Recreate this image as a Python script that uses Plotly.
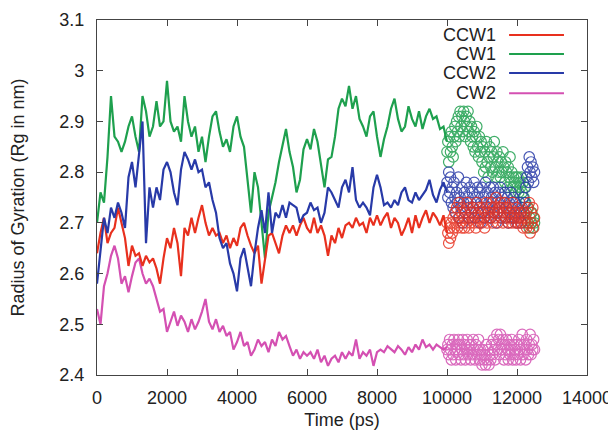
import plotly.graph_objects as go

# ---------------- data ----------------
# line part: samples every 100 ps from 0 to 10000 ps
time_line = list(range(0, 10001, 100))
# circle part: samples every 25 ps from 10000 to 12500 ps
time_pts = list(range(10000, 12501, 25))

ccw1_line = [2.64, 2.68, 2.71, 2.66, 2.68, 2.69, 2.73, 2.70, 2.67, 2.615,
             2.655, 2.635, 2.64, 2.615, 2.635, 2.622, 2.63, 2.61, 2.58, 2.63,
             2.67, 2.65, 2.69, 2.66, 2.595, 2.69, 2.675, 2.71, 2.68, 2.71,
             2.735, 2.70, 2.675, 2.69, 2.675, 2.68, 2.66, 2.675, 2.65, 2.67,
             2.655, 2.69, 2.70, 2.675, 2.655, 2.64, 2.655, 2.58, 2.63, 2.675,
             2.68, 2.66, 2.64, 2.675, 2.695, 2.68, 2.695, 2.675, 2.695, 2.71,
             2.69, 2.68, 2.71, 2.68, 2.695, 2.675, 2.635, 2.675, 2.66, 2.69,
             2.67, 2.695, 2.70, 2.69, 2.71, 2.695, 2.70, 2.68, 2.71, 2.695,
             2.715, 2.695, 2.71, 2.72, 2.69, 2.71, 2.70, 2.675, 2.69, 2.71,
             2.68, 2.715, 2.69, 2.71, 2.725, 2.70, 2.72, 2.71, 2.695, 2.715,
             2.68]

cw1_line = [2.70, 2.76, 2.74, 2.83, 2.95, 2.87, 2.86, 2.84, 2.86, 2.89,
            2.91, 2.87, 2.84, 2.95, 2.92, 2.87, 2.89, 2.94, 2.89, 2.90,
            2.98, 2.90, 2.88, 2.89, 2.86, 2.95, 2.90, 2.87, 2.89, 2.84,
            2.87, 2.82, 2.87, 2.91, 2.92, 2.88, 2.85, 2.865, 2.84, 2.89,
            2.91, 2.87, 2.85, 2.78, 2.72, 2.80, 2.77, 2.70, 2.63, 2.72,
            2.75, 2.78, 2.82, 2.85, 2.885, 2.84, 2.81, 2.76, 2.785, 2.845,
            2.865, 2.845, 2.885, 2.86, 2.81, 2.77, 2.825, 2.83, 2.87, 2.925,
            2.945, 2.93, 2.97, 2.925, 2.95, 2.905, 2.89, 2.87, 2.91, 2.92,
            2.87, 2.83, 2.865, 2.89, 2.925, 2.945, 2.905, 2.88, 2.89, 2.93,
            2.905, 2.89, 2.92, 2.885, 2.91, 2.925, 2.905, 2.91, 2.885, 2.89,
            2.86]

ccw2_line = [2.58, 2.65, 2.71, 2.68, 2.73, 2.71, 2.74, 2.72, 2.69, 2.79,
             2.82, 2.77, 2.83, 2.90, 2.66, 2.77, 2.73, 2.77, 2.745, 2.805,
             2.82, 2.80, 2.76, 2.735, 2.805, 2.84, 2.825, 2.805, 2.825, 2.80,
             2.805, 2.77, 2.78, 2.745, 2.72, 2.67, 2.65, 2.66, 2.62, 2.60,
             2.565, 2.63, 2.65, 2.61, 2.575, 2.64, 2.69, 2.725, 2.68, 2.76,
             2.68, 2.72, 2.71, 2.735, 2.71, 2.74, 2.735, 2.73, 2.70, 2.715,
             2.72, 2.74, 2.725, 2.73, 2.70, 2.72, 2.77, 2.76, 2.745, 2.73,
             2.77, 2.785, 2.76, 2.81, 2.745, 2.73, 2.74, 2.73, 2.715, 2.77,
             2.795, 2.77, 2.735, 2.74, 2.73, 2.745, 2.735, 2.76, 2.77, 2.745,
             2.74, 2.76, 2.745, 2.755, 2.765, 2.785, 2.755, 2.74, 2.765, 2.78,
             2.76]

cw2_line = [2.53, 2.50, 2.575, 2.60, 2.635, 2.655, 2.63, 2.58, 2.595, 2.563,
            2.595, 2.622, 2.63, 2.60, 2.58, 2.59, 2.575, 2.55, 2.525, 2.53,
            2.485, 2.505, 2.525, 2.497, 2.517, 2.505, 2.485, 2.51, 2.49, 2.505,
            2.525, 2.55, 2.505, 2.49, 2.51, 2.485, 2.497, 2.477, 2.485, 2.45,
            2.465, 2.485, 2.457, 2.465, 2.438, 2.45, 2.47, 2.457, 2.465, 2.445,
            2.47, 2.457, 2.485, 2.47, 2.477, 2.457, 2.438, 2.45, 2.432, 2.445,
            2.438, 2.445, 2.432, 2.45, 2.425, 2.438, 2.418, 2.432, 2.438, 2.425,
            2.445, 2.432, 2.445, 2.438, 2.47, 2.432, 2.445, 2.438, 2.45, 2.418,
            2.445, 2.45, 2.445, 2.457, 2.45, 2.445, 2.457, 2.45, 2.44, 2.455,
            2.445, 2.46, 2.45, 2.47, 2.455, 2.46, 2.45, 2.46, 2.455, 2.45,
            2.455]

ccw1_pts = [2.70, 2.68, 2.66, 2.69, 2.67, 2.70, 2.68, 2.71, 2.69, 2.72,
            2.70, 2.73, 2.69, 2.71, 2.74, 2.70, 2.72, 2.69, 2.73, 2.71,
            2.69, 2.72, 2.70, 2.74, 2.71, 2.69, 2.73, 2.70, 2.72, 2.71,
            2.73, 2.70, 2.72, 2.69, 2.74, 2.71, 2.70, 2.73, 2.71, 2.72,
            2.70, 2.73, 2.71, 2.69, 2.72, 2.74, 2.70, 2.72, 2.71, 2.73,
            2.71, 2.74, 2.70, 2.72, 2.73, 2.71, 2.75, 2.72, 2.70, 2.73,
            2.72, 2.74, 2.71, 2.73, 2.70, 2.72, 2.74, 2.71, 2.73, 2.72,
            2.70, 2.73, 2.71, 2.72, 2.70, 2.74, 2.71, 2.72, 2.70, 2.73,
            2.71, 2.70, 2.72, 2.71, 2.70, 2.72, 2.71, 2.69, 2.72, 2.70,
            2.71, 2.69, 2.73, 2.70, 2.74, 2.68, 2.72, 2.70, 2.73, 2.69,
            2.71]

cw1_pts = [2.84, 2.86, 2.82, 2.87, 2.84, 2.88, 2.85, 2.83, 2.87, 2.89,
           2.86, 2.90, 2.88, 2.91, 2.87, 2.92, 2.89, 2.91, 2.88, 2.92,
           2.90, 2.87, 2.91, 2.89, 2.92, 2.88, 2.90, 2.86, 2.89, 2.87,
           2.85, 2.88, 2.84, 2.87, 2.89, 2.85, 2.83, 2.87, 2.84, 2.86,
           2.82, 2.85, 2.80, 2.84, 2.81, 2.86, 2.82, 2.79, 2.83, 2.85,
           2.81, 2.84, 2.80, 2.83, 2.86, 2.81, 2.79, 2.84, 2.82, 2.80,
           2.83, 2.79, 2.82, 2.80, 2.84, 2.81, 2.78, 2.82, 2.80, 2.77,
           2.81, 2.79, 2.83, 2.78, 2.80, 2.77, 2.79, 2.78, 2.76, 2.79,
           2.77, 2.79, 2.76, 2.78, 2.77, 2.79, 2.76, 2.78, 2.75, 2.77,
           2.74, 2.72, 2.70, 2.73, 2.69, 2.71, 2.70, 2.72, 2.69, 2.71,
           2.70]

ccw2_pts = [2.78, 2.75, 2.80, 2.76, 2.79, 2.74, 2.77, 2.73, 2.78, 2.75,
            2.72, 2.76, 2.74, 2.79, 2.71, 2.75, 2.73, 2.77, 2.70, 2.74,
            2.76, 2.72, 2.78, 2.73, 2.75, 2.71, 2.77, 2.74, 2.72, 2.76,
            2.73, 2.78, 2.71, 2.75, 2.74, 2.77, 2.72, 2.76, 2.70, 2.74,
            2.77, 2.72, 2.75, 2.71, 2.78, 2.73, 2.76, 2.72, 2.74, 2.77,
            2.71, 2.75, 2.73, 2.77, 2.72, 2.76, 2.70, 2.74, 2.72, 2.76,
            2.73, 2.77, 2.71, 2.75, 2.72, 2.74, 2.76, 2.71, 2.73, 2.75,
            2.70, 2.74, 2.72, 2.76, 2.71, 2.73, 2.75, 2.71, 2.74, 2.72,
            2.70, 2.73, 2.71, 2.74, 2.72, 2.70, 2.73, 2.75, 2.72, 2.74,
            2.77, 2.79, 2.81, 2.78, 2.83, 2.80, 2.82, 2.79, 2.81, 2.78,
            2.80]

cw2_pts = [2.45, 2.46, 2.44, 2.47, 2.45, 2.43, 2.46, 2.44, 2.47, 2.45,
           2.43, 2.46, 2.45, 2.47, 2.44, 2.46, 2.43, 2.45, 2.47, 2.44,
           2.46, 2.43, 2.45, 2.47, 2.44, 2.46, 2.45, 2.43, 2.46, 2.44,
           2.47, 2.45, 2.43, 2.46, 2.44, 2.45, 2.47, 2.43, 2.45, 2.44,
           2.42, 2.45, 2.43, 2.44, 2.42, 2.46, 2.43, 2.45, 2.42, 2.44,
           2.43, 2.46, 2.44, 2.47, 2.45, 2.43, 2.46, 2.48, 2.45, 2.47,
           2.44, 2.48, 2.46, 2.45, 2.47, 2.43, 2.46, 2.44, 2.47, 2.45,
           2.43, 2.46, 2.44, 2.45, 2.47, 2.43, 2.46, 2.44, 2.45, 2.43,
           2.46, 2.44, 2.47, 2.45, 2.43, 2.46, 2.48, 2.44, 2.46, 2.45,
           2.43, 2.47, 2.45, 2.44, 2.46, 2.48, 2.44, 2.46, 2.45, 2.47,
           2.45]

series_names = ["CCW1", "CW1", "CCW2", "CW2"]
series_colors = ["rgb(232,48,30)", "rgb(30,160,78)", "rgb(40,58,168)", "rgb(212,80,178)"]

x_ticks = [0, 2000, 4000, 6000, 8000, 10000, 12000, 14000]
x_ticktext = ["0", "2000", "4000", "6000", "8000", "10000", "12000", "14000"]
y_ticks = [2.4, 2.5, 2.6, 2.7, 2.8, 2.9, 3.0, 3.1]
y_ticktext = ["2.4", "2.5", "2.6", "2.7", "2.8", "2.9", "3", "3.1"]

# ---------------- figure ----------------
FONT = "Liberation Sans, Arial, sans-serif"
line_data = dict(zip(series_names, [ccw1_line, cw1_line, ccw2_line, cw2_line]))
pts_data = dict(zip(series_names, [ccw1_pts, cw1_pts, ccw2_pts, cw2_pts]))
colors = dict(zip(series_names, series_colors))

fig = go.Figure()
for name in ["CW2", "CW1", "CCW1", "CCW2"]:
    fig.add_trace(go.Scatter(x=time_line, y=line_data[name], mode="lines", name=name,
                             line=dict(color=colors[name], width=2.2), showlegend=False))
for name in ["CW1", "CCW2", "CCW1", "CW2"]:
    col = colors[name]
    fig.add_trace(go.Scatter(x=time_pts, y=pts_data[name], mode="markers", name=name,
                             marker=dict(symbol="circle-open", size=10.5, color=col,
                                         line=dict(width=1.2, color=col)),
                             opacity=0.85, showlegend=False))

# gnuplot-style legend: text right aligned, line sample on the right
leg_y = [0.958, 0.904, 0.851, 0.794]
for name, col, ly in zip(series_names, series_colors, leg_y):
    fig.add_annotation(xref="paper", yref="paper", x=0.818, y=ly, text=name,
                       showarrow=False, xanchor="right", yanchor="middle",
                       font=dict(family=FONT, size=18, color="#222"))
    fig.add_shape(type="line", xref="paper", yref="paper", x0=0.841, x1=0.953,
                  y0=ly, y1=ly, line=dict(color=col, width=2))

axis_common = dict(showline=True, mirror="allticks", linecolor="#444", linewidth=1.3,
                   ticks="inside", ticklen=6, tickcolor="#444", tickwidth=1,
                   showgrid=False, zeroline=False,
                   tickfont=dict(family=FONT, size=18, color="#222"))

fig.update_xaxes(range=[0, 14000], tickvals=x_ticks, ticktext=x_ticktext,
                 title=dict(text="Time (ps)", font=dict(family=FONT, size=18, color="#222"),
                            standoff=6),
                 ticklabelstandoff=6, **axis_common)
fig.update_yaxes(range=[2.4, 3.1], tickvals=y_ticks, ticktext=y_ticktext,
                 title=dict(text="Radius of Gyration (Rg in nm)",
                            font=dict(family=FONT, size=18, color="#222"), standoff=30),
                 ticklabelstandoff=8, **axis_common)

# the page body has an 8px default margin, so the figure is 8px smaller
fig.update_layout(width=608, height=425,
                  margin=dict(l=89, r=29, t=12, b=58, autoexpand=False),
                  paper_bgcolor="white", plot_bgcolor="white",
                  showlegend=False)

fig.write_html("out.html")
